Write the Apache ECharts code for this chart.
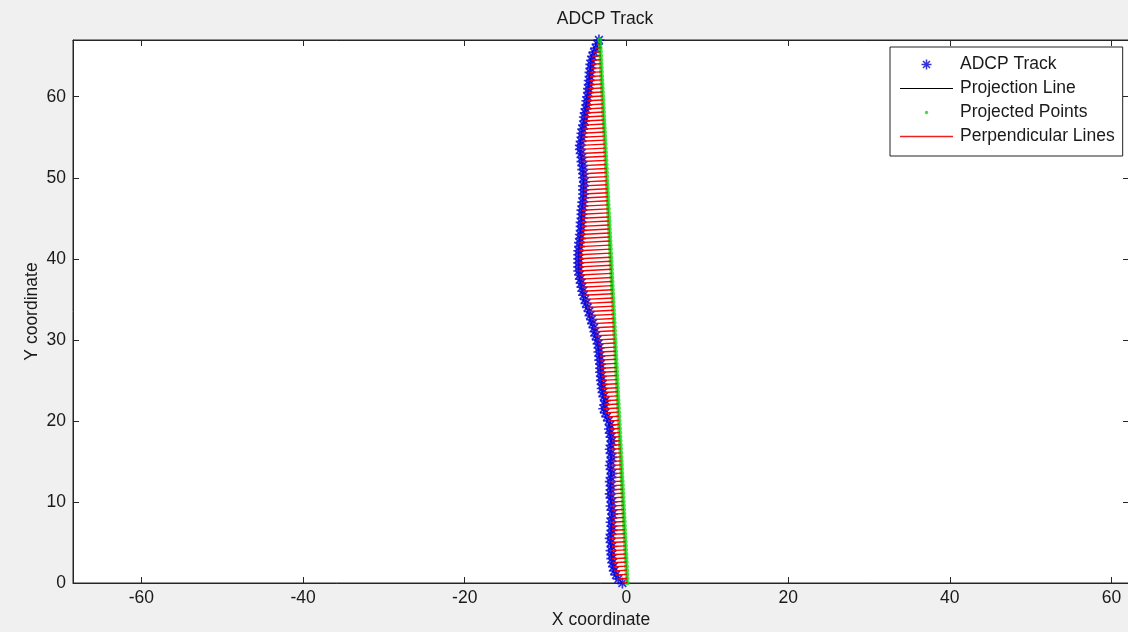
<!DOCTYPE html>
<html><head><meta charset="utf-8">
<script src="https://cdn.jsdelivr.net/npm/echarts@6/dist/echarts.min.js"></script>
<style>html,body{margin:0;padding:0;background:#f0f0f0}#c{width:1128px;height:632px}</style>
</head><body><div id="c"></div>
<script>
// ADCP track (blue asterisks)
const trackY = [0,0.5,1,1.5,2,2.5,3,3.5,4,4.5,5,5.5,6,6.5,7,7.5,8,8.5,9,9.5,
  10,10.5,11,11.5,12,12.5,13,13.5,14,14.5,15,15.5,16,16.5,17,17.5,18,18.5,19,19.5,
  20,20.5,21,21.5,22,22.5,23,23.5,24,24.5,25,25.5,26,26.5,27,27.5,28,28.5,29,29.5,
  30,30.5,31,31.5,32,32.5,33,33.5,34,34.5,35,35.5,36,36.5,37,37.5,38,38.5,39,39.5,
  40,40.5,41,41.5,42,42.5,43,43.5,44,44.5,45,45.5,46,46.5,47,47.5,48,48.5,49,49.5,
  50,50.5,51,51.5,52,52.5,53,53.5,54,54.5,55,55.5,56,56.5,57,57.5,58,58.5,59,59.5,
  60,60.5,61,61.5,62,62.5,63,63.5,64,64.5,65,65.5,66,66.5,67];
const trackX = [-0.5,-1.0,-1.3,-1.5,-1.6,-1.7,-1.8,-1.8,-1.9,-1.8,-1.9,-2.0,-1.9,-1.8,-1.8,-1.9,-1.8,-1.7,-1.8,-1.9,
  -1.8,-1.9,-2.0,-1.9,-1.9,-2.0,-1.9,-1.8,-1.9,-2.0,-1.9,-1.8,-1.9,-2.0,-1.9,-1.8,-1.9,-2.0,-2.1,-2.0,
  -2.2,-2.4,-2.6,-2.8,-2.7,-2.6,-2.8,-2.9,-3.0,-3.0,-3.1,-3.1,-3.2,-3.2,-3.2,-3.3,-3.3,-3.4,-3.4,-3.5,
  -3.6,-3.8,-3.9,-4.0,-4.2,-4.3,-4.5,-4.6,-4.8,-5.0,-5.1,-5.3,-5.4,-5.5,-5.6,-5.7,-5.8,-5.9,-5.9,-5.9,
  -5.9,-5.9,-5.9,-5.8,-5.8,-5.7,-5.7,-5.6,-5.6,-5.6,-5.5,-5.5,-5.5,-5.4,-5.4,-5.3,-5.3,-5.3,-5.3,-5.2,
  -5.3,-5.3,-5.4,-5.4,-5.5,-5.5,-5.6,-5.7,-5.7,-5.6,-5.5,-5.5,-5.4,-5.3,-5.2,-5.2,-5.1,-5.0,-4.9,-4.9,
  -4.8,-4.7,-4.7,-4.6,-4.6,-4.5,-4.5,-4.4,-4.4,-4.3,-4.2,-4.0,-3.8,-3.6,-3.4];
// projection line end points
const projStart = [0.1, 0];
const projEnd = [-3.3, 67];
const xTicks = [-60, -40, -20, 0, 20, 40, 60];
const yTicks = [0, 10, 20, 30, 40, 50, 60];
const xRange = [-68.45, 62.16];
const yRange = [0, 67];

const track = trackX.map((x, i) => [x, trackY[i]]);
const dx = projEnd[0] - projStart[0], dy = projEnd[1] - projStart[1];
const dd = dx * dx + dy * dy;
const projected = track.map(([x, y]) => {
  const t = ((x - projStart[0]) * dx + (y - projStart[1]) * dy) / dd;
  return [projStart[0] + t * dx, projStart[1] + t * dy];
});
const perp = [];
track.forEach((p, i) => { perp.push(p, projected[i], '-'); });

const FONT = '"Liberation Sans", Arial, sans-serif';
const FS = 17.5;
const AX = '#262626';
const TXT = '#1a1a1a';
const asterisk = 'path://M8.5,0 L11.5,0 L11.5,20 L8.5,20 Z M0,8.5 L20,8.5 L20,11.5 L0,11.5 Z ' +
  'M1.94,4.06 L4.06,1.94 L18.06,15.94 L15.94,18.06 Z M15.94,1.94 L18.06,4.06 L4.06,18.06 L1.94,15.94 Z';
const lineIcon = 'path://M0,0 L53,0 L53,1.2 L0,1.2 Z';
const redLineIcon = 'path://M0,0 L53,0 L53,1.6 L0,1.6 Z';
const dotIcon = 'path://M10,6.5 A3.5,3.5 0 1,1 10,13.5 A3.5,3.5 0 1,1 10,6.5 Z M0,0 L0.01,0 L0,0.01 Z M20,20 L19.99,20 L20,19.99 Z';

const chart = echarts.init(document.getElementById('c'));
const axisCommon = {
  type: 'value',
  axisLine: { show: true, onZero: false, lineStyle: { color: AX, width: 1 } },
  splitLine: { show: false },
  nameMoveOverlap: false
};
chart.setOption({
  backgroundColor: '#f0f0f0',
  animation: false,
  title: {
    text: 'ADCP Track', left: 600, top: 5, textAlign: 'center',
    textStyle: { fontFamily: FONT, fontSize: FS, fontWeight: 'normal', color: TXT }
  },
  grid: { left: 73, top: 40, right: -1, bottom: 49, show: true, backgroundColor: '#fff', borderColor: AX, borderWidth: 1,
    containLabel: false, outerBoundsMode: 'none' },
  legend: {
    orient: 'vertical', left: 890, top: 47,
    backgroundColor: '#fff', borderColor: '#222', borderWidth: 1, borderRadius: 0,
    padding: [8, 8, 10, 10], itemGap: 5, itemWidth: 53, itemHeight: 10,
    textStyle: { fontFamily: FONT, fontSize: FS, color: TXT, lineHeight: 19, padding: [0, 0, 0, 2] },
    data: [
      { name: 'ADCP Track', icon: asterisk, itemStyle: { color: '#0000cc', borderWidth: 0 } },
      { name: 'Projection Line', icon: lineIcon, itemStyle: { color: '#000', borderWidth: 0 } },
      { name: 'Projected Points', icon: dotIcon, itemStyle: { color: '#22cc22', borderWidth: 0 } },
      { name: 'Perpendicular Lines', icon: redLineIcon, itemStyle: { color: '#ee2020', borderWidth: 0 } }
    ]
  },
  xAxis: [
    Object.assign({}, axisCommon, {
      position: 'bottom', min: xRange[0], max: xRange[1],
      axisTick: { inside: true, length: 6, customValues: xTicks, lineStyle: { color: AX } },
      axisLabel: { customValues: xTicks, fontFamily: FONT, fontSize: FS, color: TXT, margin: 6 },
      name: 'X coordinate', nameLocation: 'middle', nameGap: 28,
      nameTextStyle: { fontFamily: FONT, fontSize: FS, color: TXT }
    }),
    Object.assign({}, axisCommon, {
      position: 'top', min: xRange[0], max: xRange[1],
      axisTick: { inside: true, length: 6, customValues: xTicks, lineStyle: { color: AX } },
      axisLabel: { show: false }
    })
  ],
  yAxis: [
    Object.assign({}, axisCommon, {
      position: 'left', min: yRange[0], max: yRange[1],
      axisTick: { inside: true, length: 6, customValues: yTicks, lineStyle: { color: AX } },
      axisLabel: { customValues: yTicks, fontFamily: FONT, fontSize: FS, color: TXT, margin: 7 },
      name: 'Y coordinate', nameLocation: 'middle', nameGap: 32, nameRotate: 90,
      nameTextStyle: { fontFamily: FONT, fontSize: FS, color: TXT }
    }),
    Object.assign({}, axisCommon, {
      position: 'right', min: yRange[0], max: yRange[1],
      axisTick: { inside: true, length: 6, customValues: yTicks, lineStyle: { color: AX } },
      axisLabel: { show: false }
    })
  ],
  series: [
    {
      name: 'ADCP Track', type: 'scatter', data: track, symbol: asterisk, symbolSize: 11,
      itemStyle: { color: '#0000dd' }, z: 2, silent: true
    },
    {
      name: 'Projection Line', type: 'line', data: [projStart, projEnd], showSymbol: false,
      lineStyle: { color: '#000', width: 1 }, itemStyle: { color: '#000' }, z: 3, silent: true
    },
    {
      name: 'Projected Points', type: 'scatter', data: projected, symbol: 'circle', symbolSize: 5,
      itemStyle: { color: '#11dd11' }, z: 4, silent: true
    },
    {
      name: 'Perpendicular Lines', type: 'line', data: perp, showSymbol: false, connectNulls: false,
      lineStyle: { color: '#ff0000', width: 1.4 }, itemStyle: { color: '#ff0000' }, z: 5, silent: true
    }
  ]
});
</script></body></html>
